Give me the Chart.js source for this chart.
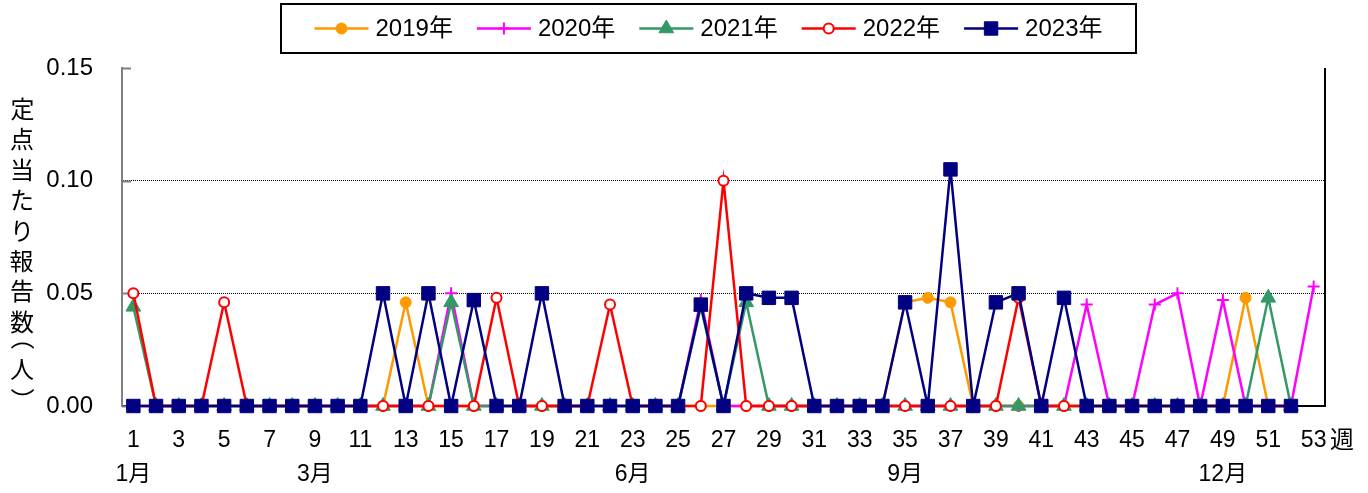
<!DOCTYPE html>
<html>
<head>
<meta charset="utf-8">
<script src="https://cdn.jsdelivr.net/npm/chart.js@4/dist/chart.umd.min.js"></script>
<style>
  html, body { margin: 0; padding: 0; background: #fff; }
  #wrap { width: 1368px; height: 493px; position: relative; }
</style>
</head>
<body>
<div id="wrap"><canvas id="myChart"></canvas></div>
<script>
// week numbers on the x axis
var weekLabels = ['1', '2', '3', '4', '5', '6', '7', '8', '9', '10',
                  '11', '12', '13', '14', '15', '16', '17', '18', '19', '20',
                  '21', '22', '23', '24', '25', '26', '27', '28', '29', '30',
                  '31', '32', '33', '34', '35', '36', '37', '38', '39', '40',
                  '41', '42', '43', '44', '45', '46', '47', '48', '49', '50',
                  '51', '52', '53'];
// month names shown under some weeks
var monthWeeks = [1, 9, 23, 35, 49];
var monthNames = ['1月', '3月', '6月', '9月', '12月'];

var yearNames = ['2019年', '2020年', '2021年', '2022年', '2023年'];

var data2019 = [0, 0, 0, 0, 0, 0, 0, 0, 0, 0,
                0, 0, 0.046, 0, 0, 0, 0, 0, 0, 0,
                0, 0, 0, 0, 0, 0, 0, 0, 0, 0,
                0, 0, 0, 0, 0.046, 0.048, 0.046, 0, 0, 0,
                0, 0, 0, 0, 0, 0, 0, 0, 0, 0.048,
                0, 0];
var data2020 = [0, 0, 0, 0, 0, 0, 0, 0, 0, 0,
                0, 0, 0, 0, 0.05, 0, 0, 0, 0, 0,
                0, 0, 0, 0, 0, 0.047, 0, 0, 0, 0,
                0, 0, 0, 0, 0, 0, 0, 0, 0, 0,
                0, 0, 0.045, 0, 0, 0.045, 0.05, 0, 0.047, 0,
                0, 0, 0.053];
var data2021 = [0.044, 0, 0, 0, 0, 0, 0, 0, 0, 0,
                0, 0, 0, 0, 0.046, 0, 0, 0, 0, 0,
                0, 0, 0, 0, 0, 0.044, 0, 0.046, 0, 0,
                0, 0, 0, 0, 0, 0, 0, 0, 0, 0,
                0, 0, 0, 0, 0, 0, 0, 0, 0, 0,
                0.048, 0];
var data2022 = [0.05, 0, 0, 0, 0.046, 0, 0, 0, 0, 0,
                0, 0, 0, 0, 0, 0, 0.048, 0, 0, 0,
                0, 0.045, 0, 0, 0, 0, 0.1, 0, 0, 0,
                0, 0, 0, 0, 0, 0, 0, 0, 0, 0.048,
                0, 0, 0, 0, 0, 0, 0, 0, 0, 0,
                0, 0];
var data2023 = [0, 0, 0, 0, 0, 0, 0, 0, 0, 0,
                0, 0.05, 0, 0.05, 0, 0.047, 0, 0, 0.05, 0,
                0, 0, 0, 0, 0, 0.045, 0, 0.05, 0.048, 0.048,
                0, 0, 0, 0, 0.046, 0, 0.105, 0, 0.046, 0.05,
                0, 0.048, 0, 0, 0, 0, 0, 0, 0, 0,
                0, 0];

var yTitle = '定点当たり報告数（人）';
var weekUnit = '週';

var plain = '"Liberation Sans", Arial, "Noto Sans CJK JP", sans-serif';
var cjk = '"Noto Sans CJK JP", sans-serif';

function line(ctx, x1, y1, x2, y2) {
    ctx.beginPath();
    ctx.moveTo(x1, y1);
    ctx.lineTo(x2, y2);
    ctx.stroke();
}

// right border of the plot and the small inner ticks of the y axis
var framePlugin = {
    id: 'frame',
    beforeDatasetsDraw: function(chart) {
        var ctx = chart.ctx;
        var a = chart.chartArea;
        var ys = chart.scales.y;
        ctx.save();
        ctx.strokeStyle = '#000';
        ctx.lineWidth = 2;
        line(ctx, a.right, a.top, a.right, a.bottom + 1);
        ctx.strokeStyle = '#808080';
        ys.ticks.forEach(function(t) {
            var py = Math.round(ys.getPixelForValue(t.value)) + 0.5;
            line(ctx, a.left, py, a.left + 9, py);
        });
        ctx.restore();
    }
};

// legend box with line + marker samples
var legendPlugin = {
    id: 'boxLegend',
    afterDraw: function(chart) {
        var ctx = chart.ctx;
        var box = {left: 281, top: 4, right: 1136, bottom: 53};
        ctx.save();
        ctx.fillStyle = '#fff';
        ctx.fillRect(box.left, box.top, box.right - box.left, box.bottom - box.top);
        ctx.strokeStyle = '#000';
        ctx.lineWidth = 2;
        ctx.strokeRect(box.left, box.top, box.right - box.left, box.bottom - box.top);

        ctx.font = '24px ' + plain;
        var lineLen = 54, gapText = 7, gapItem = 24;
        var sets = chart.data.datasets;
        var widths = sets.map(function(ds) { return lineLen + gapText + ctx.measureText(ds.label).width; });
        var total = widths.reduce(function(s, w) { return s + w; }, 0) + gapItem * (sets.length - 1);
        var x = (box.left + box.right) / 2 - total / 2;
        var cy = (box.top + box.bottom) / 2;
        for (var i = 0; i < sets.length; i++) {
            var ds = sets[i];
            ctx.strokeStyle = ds.borderColor;
            ctx.lineWidth = ds.borderWidth;
            line(ctx, x, cy, x + lineLen, cy);
            ctx.fillStyle = ds.pointBackgroundColor;
            ctx.strokeStyle = ds.pointBorderColor;
            ctx.lineWidth = ds.pointBorderWidth;
            Chart.helpers.drawPoint(ctx, {pointStyle: ds.pointStyle, radius: ds.pointRadius, borderWidth: ds.pointBorderWidth, rotation: 0}, x + lineLen / 2, cy);
            ctx.fillStyle = '#000';
            ctx.textAlign = 'left';
            ctx.textBaseline = 'middle';
            ctx.fillText(ds.label, x + lineLen + gapText, cy + 1);
            x += widths[i] + gapItem;
        }
        ctx.restore();
    }
};

// vertical y title and the week unit at the end of the x axis
var titlePlugin = {
    id: 'titles',
    afterDraw: function(chart) {
        var ctx = chart.ctx;
        ctx.save();
        ctx.fillStyle = '#000';
        ctx.font = '24px ' + cjk;
        ctx.textAlign = 'left';
        ctx.textBaseline = 'alphabetic';
        var cx = 22, cy = 109, pitch = 30.4, prevW = 1;
        var chars = Array.from(yTitle);
        for (var i = 0; i < chars.length; i++) {
            var ch = chars[i];
            var paren = (ch === '（' || ch === '）');
            var w = paren ? 0.55 : 1;
            if (i > 0) cy += (prevW + w) / 2 * pitch;
            prevW = w;
            var m = ctx.measureText(ch);
            var ix = (m.actualBoundingBoxRight - m.actualBoundingBoxLeft) / 2;
            var iy = (m.actualBoundingBoxDescent - m.actualBoundingBoxAscent) / 2;
            ctx.save();
            ctx.translate(cx, cy);
            if (paren) ctx.rotate(Math.PI / 2);
            ctx.fillText(ch, -ix, -iy);
            ctx.restore();
        }
        ctx.font = '24px ' + plain;
        ctx.textAlign = 'center';
        ctx.textBaseline = 'middle';
        ctx.fillText(weekUnit, 1342, 441);
        ctx.restore();
    }
};

var ctx = document.getElementById('myChart').getContext('2d');
var myChart = new Chart(ctx, {
    type: 'line',
    data: {
        labels: weekLabels,
        datasets: [{
            label: yearNames[0],
            data: data2019,
            borderColor: '#FF9900',
            borderWidth: 2.5,
            pointStyle: 'circle',
            pointRadius: 5.5,
            pointBackgroundColor: '#FF9900',
            pointBorderColor: '#FF9900',
            pointBorderWidth: 1,
            order: 5
        }, {
            label: yearNames[1],
            data: data2020,
            borderColor: '#FF00FF',
            borderWidth: 2.5,
            pointStyle: 'cross',
            pointRadius: 6,
            pointBackgroundColor: '#FF00FF',
            pointBorderColor: '#FF00FF',
            pointBorderWidth: 2,
            order: 4
        }, {
            label: yearNames[2],
            data: data2021,
            borderColor: '#339966',
            borderWidth: 2.5,
            pointStyle: 'triangle',
            pointRadius: 8.5,
            pointBackgroundColor: '#339966',
            pointBorderColor: '#339966',
            pointBorderWidth: 1,
            order: 3
        }, {
            label: yearNames[3],
            data: data2022,
            borderColor: '#FF0000',
            borderWidth: 2.5,
            pointStyle: 'circle',
            pointRadius: 5,
            pointBackgroundColor: '#FFFFFF',
            pointBorderColor: '#FF0000',
            pointBorderWidth: 2,
            order: 2
        }, {
            label: yearNames[4],
            data: data2023,
            borderColor: '#000080',
            borderWidth: 2.5,
            pointStyle: 'rect',
            pointRadius: 9.5,
            pointBackgroundColor: '#000080',
            pointBorderColor: '#000080',
            pointBorderWidth: 1,
            order: 1
        }]
    },
    options: {
        responsive: true,
        maintainAspectRatio: false,
        animation: false,
        events: [],
        datasets: { line: { clip: false, tension: 0, fill: false } },
        layout: { padding: { top: 68, right: 43, left: 0, bottom: 0 } },
        plugins: {
            legend: { display: false },
            tooltip: { enabled: false }
        },
        scales: {
            x: {
                type: 'category',
                offset: true,
                grid: { display: false, drawTicks: false },
                border: { display: true, color: '#000', width: 2 },
                ticks: {
                    autoSkip: false,
                    maxRotation: 0,
                    minRotation: 0,
                    padding: 18,
                    color: '#000',
                    font: { family: plain, size: 23, lineHeight: 1.48 },
                    callback: function(value, index) {
                        var w = index + 1;
                        if (w % 2 === 0) return '';
                        var m = monthWeeks.indexOf(w);
                        return m >= 0 ? [weekLabels[index], monthNames[m]] : weekLabels[index];
                    }
                },
                afterFit: function(scale) { scale.height = 87; }
            },
            y: {
                min: 0,
                max: 0.15,
                grid: {
                    drawTicks: false,
                    lineWidth: 1,
                    color: function(c) {
                        if (!c.tick) return 'rgba(0,0,0,0)';
                        var v = c.tick.value;
                        return (Math.abs(v - 0.05) < 1e-6 || Math.abs(v - 0.1) < 1e-6) ? '#000' : 'rgba(0,0,0,0)';
                    }
                },
                border: { display: true, color: '#808080', width: 2, dash: [1, 1] },
                ticks: {
                    stepSize: 0.05,
                    padding: 29,
                    color: '#000',
                    font: { family: plain, size: 24 },
                    callback: function(v) { return Number(v).toFixed(2); }
                },
                afterFit: function(scale) { scale.width = 122; }
            }
        }
    },
    plugins: [framePlugin, legendPlugin, titlePlugin]
});
</script>
</body>
</html>
